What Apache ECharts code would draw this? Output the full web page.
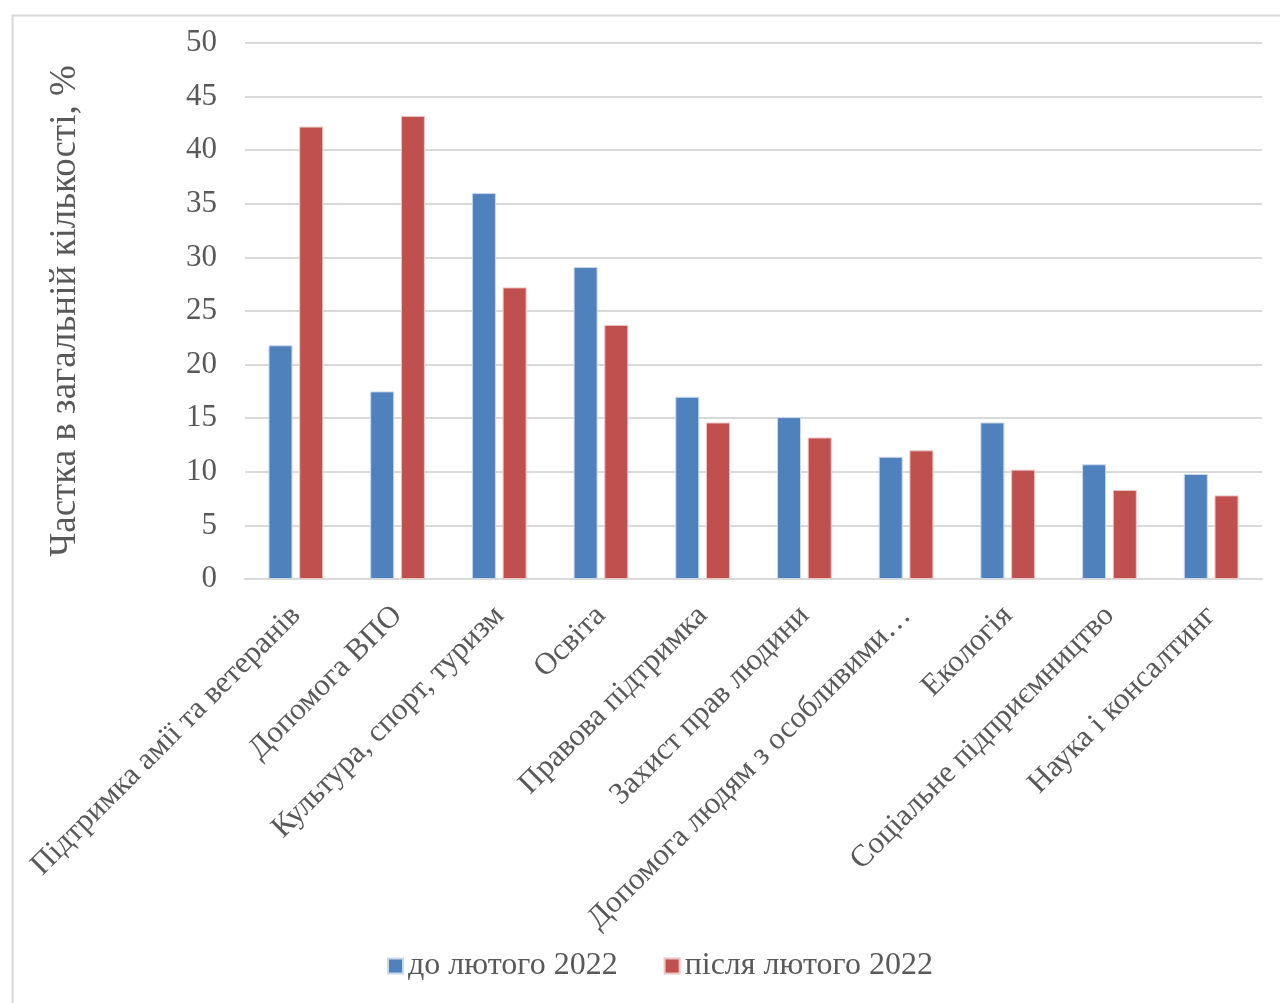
<!DOCTYPE html>
<html>
<head>
<meta charset="utf-8">
<script src="https://cdn.jsdelivr.net/npm/echarts@6/dist/echarts.min.js"></script>
<style>
html,body{margin:0;padding:0;background:#fff;}
#chart{width:1280px;height:1003px;}
</style>
</head>
<body>
<div id="chart"></div>
<script>
const categories = [
  'Підтримка амії та ветеранів',
  'Допомога ВПО',
  'Культура, спорт, туризм',
  'Освіта',
  'Правова підтримка',
  'Захист прав людини',
  'Допомога людям з особливими…',
  'Екологія',
  'Соціальне підприємництво',
  'Наука і консалтинг'
];
const seriesNames = ['до лютого 2022', 'після лютого 2022'];
const before = [21.8, 17.5, 36.0, 29.1, 17.0, 15.1, 11.4, 14.6, 10.7, 9.8];
const after = [42.2, 43.2, 27.2, 23.7, 14.6, 13.2, 12.0, 10.2, 8.3, 7.8];
const yTicks = {min: 0, max: 50, interval: 5};
const yTitle = 'Частка в загальній кількості, %';

const font = '"Liberation Serif", "Times New Roman", serif';
const txt = '#595959';
const chart = echarts.init(document.getElementById('chart'));
chart.setOption({
  animation: false,
  backgroundColor: '#fff',
  textStyle: {fontFamily: font},
  graphic: [{
    type: 'rect', left: 10, top: 13,
    shape: {width: 1300, height: 1020},
    style: {fill: 'none', stroke: '#d9d9d9', lineWidth: 2},
    silent: true
  }],
  legend: {
    bottom: 16, left: 382,
    itemWidth: 15, itemHeight: 15, itemGap: 46,
    icon: 'rect',
    textStyle: {fontFamily: font, fontSize: 32, color: txt},
    data: seriesNames
  },
  grid: {left: 245, right: 18, top: 43, bottom: 424, containLabel: false},
  xAxis: {
    type: 'category',
    data: categories,
    axisLine: {show: true, lineStyle: {color: '#d9d9d9', width: 2}},
    axisTick: {show: false},
    axisLabel: {
      rotate: 45, interval: 0, margin: 32,
      fontFamily: font, fontSize: 31, color: txt
    }
  },
  yAxis: {
    type: 'value',
    min: yTicks.min, max: yTicks.max, interval: yTicks.interval,
    name: yTitle,
    nameLocation: 'middle',
    nameGap: 161,
    nameTextStyle: {fontFamily: font, fontSize: 37, color: txt},
    axisLine: {show: false},
    axisTick: {show: false},
    axisLabel: {fontFamily: font, fontSize: 31, color: txt, margin: 28},
    splitLine: {lineStyle: {color: '#d9d9d9', width: 2}}
  },
  series: [
    {
      name: seriesNames[0], type: 'bar', data: before,
      barWidth: 24, barGap: '28%',
      itemStyle: {color: '#4F81BD', borderColor: '#c9d7ea', borderWidth: 1}
    },
    {
      name: seriesNames[1], type: 'bar', data: after,
      barWidth: 24,
      itemStyle: {color: '#C0504D', borderColor: '#ecc4c3', borderWidth: 1}
    }
  ]
});
</script>
</body>
</html>
